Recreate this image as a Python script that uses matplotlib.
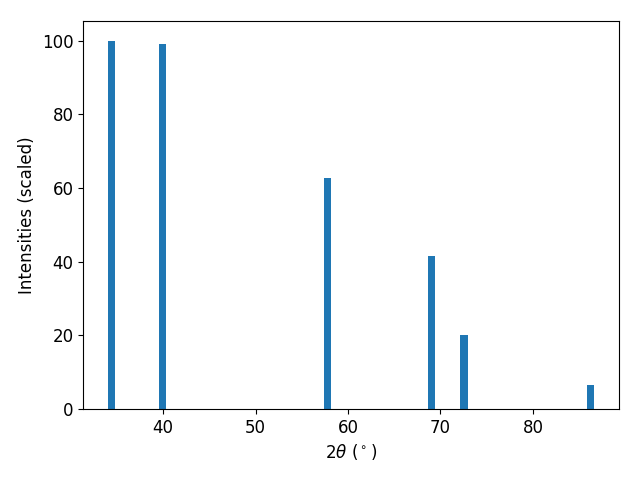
import matplotlib
matplotlib.use("Agg")
import matplotlib.pyplot as plt

# peak positions (2theta, degrees) and scaled intensities
two_theta = [34.4, 39.9, 57.75, 69.0, 72.55, 86.2]
intensity = [100.0, 99.0, 62.6, 41.5, 20.0, 6.5]

fig, ax = plt.subplots(figsize=(6.4, 4.8), dpi=100)
ax.bar(two_theta, intensity, width=0.8, color="#1f77b4")

ax.set_xlim(31.35, 89.3)
ax.set_ylim(0, 105.3)
ax.set_xlabel(r"$2\theta$ ($^\circ$)", fontsize=12)
ax.set_ylabel("Intensities (scaled)", fontsize=12)
ax.tick_params(labelsize=12)

fig.subplots_adjust(left=0.13, right=0.967, bottom=0.148, top=0.956)
fig.savefig("out.png")
